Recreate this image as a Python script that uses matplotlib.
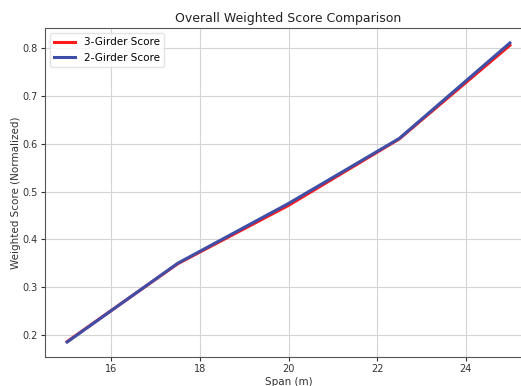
import matplotlib
matplotlib.use("Agg")
import matplotlib.pyplot as plt

spans = [15, 17.5, 20, 22.5, 25]
score_3girder = [0.186, 0.349, 0.471, 0.610, 0.806]
score_2girder = [0.185, 0.350, 0.475, 0.611, 0.811]
x_ticks = [16, 18, 20, 22, 24]
y_ticks = [0.2, 0.3, 0.4, 0.5, 0.6, 0.7, 0.8]

plt.rcParams['font.family'] = ['DejaVu Sans']
fig = plt.figure(figsize=(5.21, 3.86), dpi=100)
ax = fig.add_axes([45/521, 1 - 357/386, (532 - 45)/521, (357 - 28)/386])

ax.plot(spans, score_3girder, color='#ff1a1a', lw=2.2, label='3-Girder Score')
ax.plot(spans, score_2girder, color='#3f4ea6', lw=2.2, label='2-Girder Score')

ax.set_xticks(x_ticks)
ax.set_yticks(y_ticks)
ax.tick_params(labelsize=7, colors='#333333', length=3, pad=2)
ax.grid(True, color='#d4d4d4', lw=0.8)
ax.set_axisbelow(True)
for s in ax.spines.values():
    s.set_color('#555555')

ax.set_title('Overall Weighted Score Comparison', fontsize=9, color='#222222', pad=4)
ax.set_xlabel('Span (m)', fontsize=7.5, color='#333333', labelpad=2)
ax.set_ylabel('Weighted Score (Normalized)', fontsize=7.5, color='#333333')
ax.yaxis.set_label_coords(-0.05, 0.5)
ax.legend(loc='upper left', fontsize=7.5, frameon=True, framealpha=0.8, edgecolor='#dddddd')

fig.savefig('out.png', dpi=100)
